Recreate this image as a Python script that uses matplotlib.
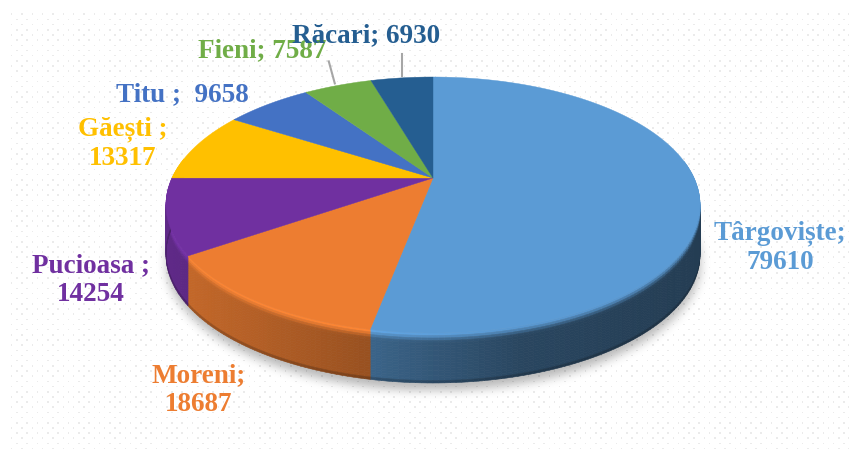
import numpy as np
import matplotlib
matplotlib.use("Agg")
import matplotlib.pyplot as plt
from matplotlib.collections import PolyCollection
from matplotlib.patches import Polygon
from matplotlib.path import Path
from matplotlib.colors import to_rgb

names = ["Târgoviște", "Moreni", "Pucioasa", "Găești", "Titu", "Fieni", "Răcari"]
values = [79610, 18687, 14254, 13317, 9658, 7587, 6930]
colors = ["#5B9BD5", "#ED7D31", "#7030A0", "#FFC000", "#4472C4", "#70AD47", "#255E91"]
label_texts = ["Târgoviște;\n79610", "Moreni;\n18687", "Pucioasa ;\n14254", "Găești ;\n13317",
               "Titu ;  9658", "Fieni; 7587", "Răcari; 6930"]
label_pos = [(780, 248), (199, 390.5), (91, 280.5), (123, 144), (182, 94.5), (262, 51), (366, 36)]

W, H = 849, 451
CX, CY, S, K, A, DEPTH = 433, 178, 261, 0.2109, -84.76, 50

def project(theta):
    x, y = np.sin(theta), np.cos(theta)
    d = 1 + K * y
    return CX + S * x / d, (A * y + CY) / d

fig = plt.figure(figsize=(W / 100, H / 100), dpi=100)
ax = fig.add_axes([0, 0, 1, 1])

# background texture and soft shadow
yy, xx = np.mgrid[0:H, 0:W]
bg = np.ones((H, W))
u = np.floor(xx / 5.17).astype(int)
v = np.floor((yy - 13) / 5.17).astype(int)
dots = ((u + v) % 2 == 0) & (np.mod(xx, 5.17) < 1.6) & (np.mod(yy - 13, 5.17) < 1.6)
bg[dots & (yy >= 13) & (xx >= 9)] = 0.92
t = np.linspace(0, 2 * np.pi, 361)
px, py = project(t)
mask = Path(np.c_[px, py + DEPTH + 7]).contains_points(np.c_[xx.ravel(), yy.ravel()]).reshape(H, W).astype(float)
g = np.exp(-0.5 * (np.arange(-15, 16) / 5.0) ** 2)
g /= g.sum()
mask = np.apply_along_axis(lambda r: np.convolve(r, g, mode="same"), 0, mask)
mask = np.apply_along_axis(lambda r: np.convolve(r, g, mode="same"), 1, mask)
bg = bg * (1 - 0.28 * mask)
ax.imshow(bg, cmap="gray", vmin=0, vmax=1, extent=(0, W, H, 0), aspect="auto",
          interpolation="nearest", zorder=0)
ax.set_xlim(0, W)
ax.set_ylim(H, 0)
ax.axis("off")

fractions = np.array(values, dtype=float) / sum(values)
edges = np.concatenate([[0], np.cumsum(fractions)]) * 2 * np.pi

# walls, drawn as shaded quads
polys, fcs = [], []
vs = np.linspace(0, 1, 21)
for i in range(len(values)):
    n = max(3, int(np.degrees(edges[i + 1] - edges[i])))
    th = np.linspace(edges[i], edges[i + 1], n + 1)
    wx, wy = project(th)
    top = np.array(to_rgb(colors[i]))
    for j in range(n):
        if np.cos(th[j]) > 0.15:
            continue
        xm = 0.5 * (wx[j] + wx[j + 1])
        f = np.interp(xm, [166, 372, 520, 700], [0.85, 0.64, 0.45, 0.39])
        wall = top * f
        hi_amt = np.interp(xm, [166, 372, 520, 700], [1.08, 1.08, 1.0, 1.0])
        hi = np.clip(top * hi_amt, 0, 1)
        for a, b in zip(vs[:-1], vs[1:]):
            mid = 0.5 * (a + b) * DEPTH
            s = np.clip(mid / 10.0, 0, 1)
            s = s * s * (3 - 2 * s)
            c = hi * (1 - s) + wall * s
            if mid > DEPTH - 3:
                c = c * 0.8
            polys.append([(wx[j], wy[j] + a * DEPTH), (wx[j + 1], wy[j + 1] + a * DEPTH),
                          (wx[j + 1], wy[j + 1] + b * DEPTH), (wx[j], wy[j] + b * DEPTH)])
            fcs.append(c)
ax.add_collection(PolyCollection(polys, facecolors=fcs, edgecolors=fcs, linewidths=0.4, zorder=2))

# top face
for i in range(len(values)):
    th = np.linspace(edges[i], edges[i + 1], 200)
    wx, wy = project(th)
    pts = np.vstack([[CX, CY], np.c_[wx, wy]])
    ax.add_patch(Polygon(pts, closed=True, facecolor=colors[i], edgecolor=colors[i],
                         linewidth=0.3, zorder=3))

# leader lines for the two small slices
for k, dx0, dx1 in [(5, -3, -9), (6, 0, 0)]:
    mid = 0.5 * (edges[k] + edges[k + 1])
    ex, ey = project(np.array([mid]))
    ax.plot([ex[0] + dx0, ex[0] + dx1], [ey[0] - 2, ey[0] - 24], color="#A6A6A6", lw=1.5, zorder=4)

# labels
for text, (lx, ly), c in zip(label_texts, label_pos, colors):
    ax.text(lx, ly, text, color=c, ha="center", va="center", family="Liberation Serif",
            weight="bold", fontsize=19.5, linespacing=1.2, zorder=5)

fig.savefig("out.png", dpi=100)
